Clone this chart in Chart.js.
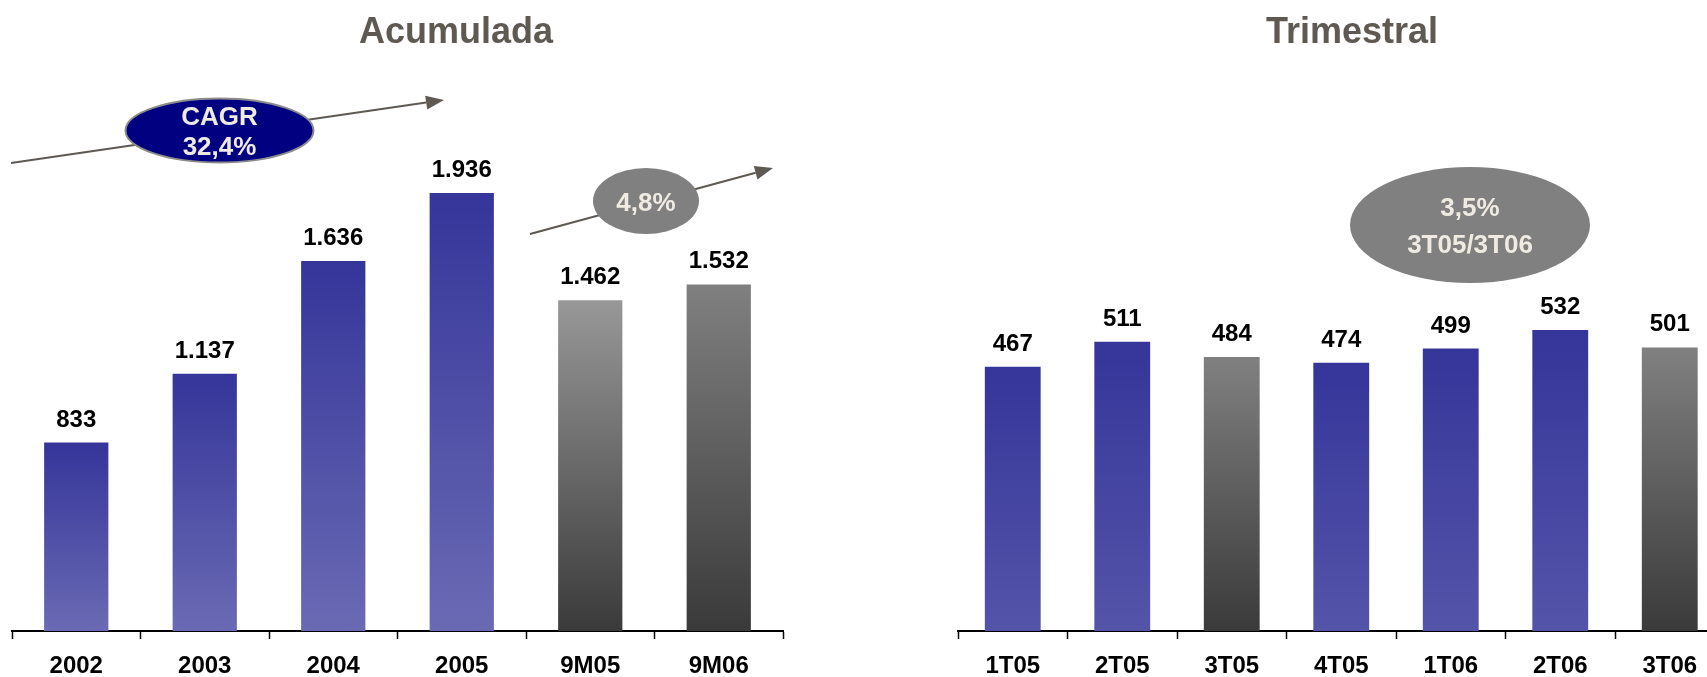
<!DOCTYPE html>
<html>
<head>
<meta charset="utf-8">
<script src="https://cdn.jsdelivr.net/npm/chart.js@4.4.0/dist/chart.umd.min.js"></script>
<style>
  html, body { margin: 0; padding: 0; background: #fff; overflow: hidden; }
  #page { position: relative; width: 1707px; height: 677px; overflow: hidden; }
  .title { position: absolute; top: 10px; font: bold 36px "Liberation Sans", Arial, sans-serif; color: #5e5953; white-space: nowrap; transform: translateX(-50%); line-height: normal; }
  canvas { position: absolute; top: 0; }
</style>
</head>
<body>
<div id="page">
  <canvas id="left" width="800" height="693" style="left:0"></canvas>
  <canvas id="right" width="840" height="693" style="left:900px"></canvas>
  <div class="title" style="left:456px">Acumulada</div>
  <div class="title" style="left:1352px">Trimestral</div>
</div>
<script>
/* global Chart */

const accLabels = ['2002', '2003', '2004', '2005', '9M05', '9M06'];
const accValues = [833, 1137, 1636, 1936, 1462, 1532];

const triLabels = ['1T05', '2T05', '3T05', '4T05', '1T06', '2T06', '3T06'];
const triValues = [467, 511, 484, 474, 499, 532, 501];

const FONT = '"Liberation Sans", Arial, sans-serif';

const blue = ['#35359a', '#6a6ab4'];
const blueTri = ['#35359a', '#5454a9'];
const grayLight = ['#989898', '#3a3a3a'];
const gray = ['#808080', '#3a3a3a'];

const accColors = [blue, blue, blue, blue, grayLight, gray];
const triColors = [blueTri, blueTri, gray, blueTri, blueTri, blueTri, gray];

function fmt(v) {
  return String(v).replace(/\B(?=(\d{3})+(?!\d))/g, '.');
}

// vertical gradient per bar, from its top down to zero
function barFill(colors) {
  return (c) => {
    const chart = c.chart;
    if (!chart.chartArea) return colors[c.dataIndex][0];
    const y = chart.scales.y;
    const g = chart.ctx.createLinearGradient(0, y.getPixelForValue(c.raw), 0, y.getPixelForValue(0));
    g.addColorStop(0, colors[c.dataIndex][0]);
    g.addColorStop(1, colors[c.dataIndex][1]);
    return g;
  };
}

const valueLabels = {
  id: 'valueLabels',
  afterDatasetsDraw(chart) {
    const ctx = chart.ctx;
    const data = chart.data.datasets[0].data;
    ctx.save();
    ctx.font = 'bold 24px ' + FONT;
    ctx.fillStyle = '#000';
    ctx.textAlign = 'center';
    ctx.textBaseline = 'alphabetic';
    chart.getDatasetMeta(0).data.forEach((bar, i) => {
      ctx.fillText(fmt(data[i]), bar.x, bar.y - 16);
    });
    ctx.restore();
  }
};

function arrow(ctx, x1, y1, x2, y2) {
  const a = Math.atan2(y2 - y1, x2 - x1);
  const len = 18, hw = 7;
  const bx = x2 - len * Math.cos(a), by = y2 - len * Math.sin(a);
  ctx.save();
  ctx.strokeStyle = ctx.fillStyle = '#5e5953';
  ctx.lineWidth = 2;
  ctx.beginPath();
  ctx.moveTo(x1, y1);
  ctx.lineTo(bx, by);
  ctx.stroke();
  ctx.beginPath();
  ctx.moveTo(x2, y2);
  ctx.lineTo(bx + hw * Math.sin(a), by - hw * Math.cos(a));
  ctx.lineTo(bx - hw * Math.sin(a), by + hw * Math.cos(a));
  ctx.closePath();
  ctx.fill();
  ctx.restore();
}

function bubble(ctx, cx, cy, rx, ry, fill, stroke, lines) {
  ctx.save();
  ctx.beginPath();
  ctx.ellipse(cx, cy, rx, ry, 0, 0, Math.PI * 2);
  ctx.fillStyle = fill;
  ctx.fill();
  if (stroke) {
    ctx.strokeStyle = stroke;
    ctx.lineWidth = 2;
    ctx.stroke();
  }
  ctx.font = 'bold 26px ' + FONT;
  ctx.fillStyle = '#efebe3';
  ctx.textAlign = 'center';
  ctx.textBaseline = 'alphabetic';
  lines.forEach(([t, y]) => ctx.fillText(t, cx, y + 9));
  ctx.restore();
}

function makeChart(id, labels, values, colors, max, barPct, pad, drawExtras) {
  return new Chart(document.getElementById(id), {
    type: 'bar',
    data: {
      labels: labels,
      datasets: [{
        data: values,
        backgroundColor: barFill(colors),
        borderWidth: 0,
        barPercentage: barPct,
        categoryPercentage: 1
      }]
    },
    options: {
      responsive: false,
      animation: false,
      layout: { padding: pad },
      plugins: { legend: { display: false }, tooltip: { enabled: false } },
      scales: {
        x: {
          grid: { offset: true, drawOnChartArea: false, tickLength: 8, tickColor: '#000', tickWidth: 1.5 },
          border: { display: true, color: '#000', width: 2 },
          ticks: { color: '#000', padding: 15, font: { family: FONT, size: 24, weight: 'bold', lineHeight: 1 } }
        },
        y: { display: false, min: 0, max: max }
      }
    },
    plugins: [valueLabels, { id: 'extras', afterDraw: (chart) => drawExtras(chart.ctx) }]
  });
}

makeChart('left', accLabels, accValues, accColors, 2500, 0.5,
  { left: 12, right: 17, top: 65.5, bottom: 0 },
  (ctx) => {
    arrow(ctx, 11, 163, 444, 100);
    bubble(ctx, 219.5, 130.5, 94, 32, '#000080', '#8c8c8c', [['CAGR', 116], ['32,4%', 146]]);
    arrow(ctx, 530, 234, 773, 168);
    bubble(ctx, 646, 201, 53, 33, '#808080', null, [['4,8%', 202]]);
  });

makeChart('right', triLabels, triValues, triColors, 1000, 0.51,
  { left: 58, right: 15.5, top: 65, bottom: 0 },
  (ctx) => {
    bubble(ctx, 1470 - 900, 225, 120, 58, '#808080', null, [['3,5%', 207], ['3T05/3T06', 244]]);
  });
</script>
</body>
</html>
